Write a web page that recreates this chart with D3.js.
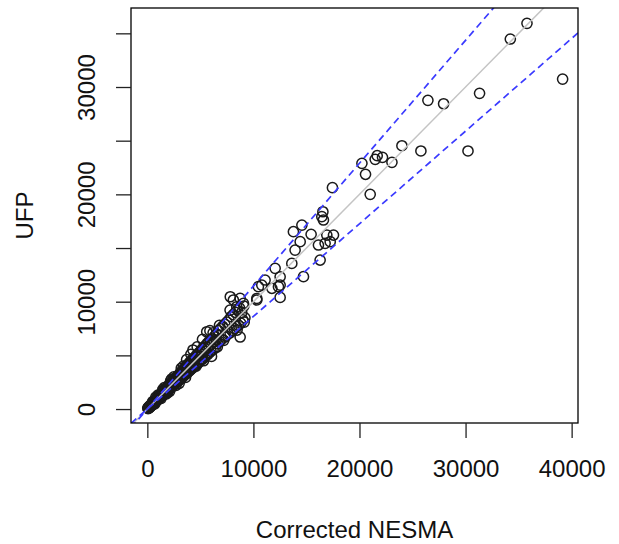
<!DOCTYPE html>
<html>
<head>
<meta charset="utf-8">
<script src="https://cdn.jsdelivr.net/npm/d3@7"></script>
<style>
  body { margin: 0; background: #fff; }
  svg { display: block; font-family: "Liberation Sans", Arial, sans-serif; }
</style>
</head>
<body>
<svg width="619" height="544"></svg>
<script>
// Corrected NESMA count (x) vs UFP (y), one pair per project
const projects = [
  // 0 - 1000
  [40,90],[70,40],[100,150],[130,80],[160,200],[190,140],[210,260],[240,190],[270,320],[300,240],
  [320,360],[350,300],[380,430],[410,340],[430,470],[460,390],[490,540],[520,450],[540,600],[570,500],
  [600,660],[630,550],[650,700],[680,600],[710,790],[740,650],[760,820],[790,700],[820,900],[850,760],
  [870,930],[900,800],[930,1020],[960,850],[980,1070],[150,160],[300,310],[600,590],[900,910],
  [500,700],[800,1100],[700,480],
  // 1000 - 2000
  [1010,900],[1040,1150],[1070,950],[1100,1200],[1120,1010],[1150,1260],[1180,1050],[1210,1330],
  [1240,1110],[1260,1380],[1290,1150],[1320,1450],[1350,1200],[1380,1510],[1410,1260],[1440,1580],
  [1470,1310],[1500,1650],[1530,1370],[1560,1700],[1590,1420],[1620,1760],[1650,1480],[1680,1830],
  [1710,1530],[1740,1900],[1770,1590],[1800,1960],[1830,1640],[1860,2020],[1890,1700],[1920,2080],
  [1950,1760],[1980,2150],[1200,1210],[1400,1390],[1600,1620],[1800,1790],
  [1000,1300],[1300,1000],[1600,2000],[1900,1500],[1450,1800],[1750,1400],
  // 2000 - 3000
  [2010,1820],[2050,2250],[2090,1880],[2130,2330],[2170,1950],[2210,2400],[2250,2020],[2300,2500],
  [2340,2100],[2380,2580],[2420,2180],[2460,2680],[2500,2250],[2550,2760],[2600,2330],[2650,2880],
  [2700,2430],[2750,2960],[2800,2520],[2850,3080],[2900,2600],[2950,3150],[2000,2010],[2200,2210],
  [2400,2380],[2600,2620],[2800,2790],
  [2100,1650],[2300,2800],[2500,3000],[2700,2200],[3000,2400],[2200,2650],
  // 3000 - 4500
  [3000,2700],[3050,3300],[3100,2780],[3150,3420],[3200,2900],[3250,3500],[3300,2950],[3350,3650],
  [3400,3080],[3450,3700],[3500,3150],[3550,3850],[3600,3250],[3650,3950],[3700,3300],[3750,4080],
  [3800,3420],[3850,4150],[3900,3500],[3950,4300],[4000,3600],[4050,4400],[4100,3700],[4150,4500],
  [4200,3780],[4250,4600],[4300,3850],[4350,4700],[4400,3950],[4450,4800],[3000,3010],[3300,3290],
  [3600,3620],[3900,3880],[4200,4210],[4500,4480],[3200,3800],[3700,4600],[4100,5100],[4600,4000],
  [3400,4000],[3600,2950],
  // 4500 - 6500
  [4500,4050],[4580,4950],[4650,4150],[4720,5100],[4800,4300],[4880,5250],[4950,4450],[5020,5400],
  [5100,4600],[5180,5600],[5250,4700],[5330,5750],[5400,4850],[5480,5900],[5550,5000],[5630,6100],
  [5700,5100],[5780,6250],[5850,5250],[5930,6400],[6000,5400],[6100,6550],[6200,5550],[6300,6750],
  [6400,5700],[4800,4790],[5100,5120],[5400,5380],[5700,5720],[6000,6010],[6300,6290],[4700,5800],
  [5600,7200],[5900,7300],[6200,7100],[4300,5500],[5200,6500],[6050,4900],[5300,4500],[6600,5800],
  // 6500 - 10500
  [6500,7000],[6600,6100],[6700,7300],[6800,6300],[6900,7500],[7000,6500],[7100,7700],[7200,6400],
  [7300,7900],[7400,6800],[7500,8100],[7600,7000],[7700,8300],[7800,7100],[7900,8600],[8000,7300],
  [8100,8800],[8200,7500],[8300,9000],[8400,7700],[8500,9200],[8600,7800],[8700,9400],[8800,8000],
  [8900,9000],[9000,8300],[9100,9600],[9200,8500],[6800,7800],[7300,6700],[8460,7360],[9130,8100],
  [8750,6710],[7330,6890],[6480,6430],[7820,10460],[8110,10160],[8430,9530],[7800,9220],[8750,10310],
  [9060,9850],[10320,10160],
  // 10000 - 13000
  [10320,10300],[10470,11400],[10790,11550],[11100,12020],[11740,11250],[12050,13110],[12360,11400],
  [12520,12320],[12520,11550],[12520,10400],
  // 13000 - 18000
  [13620,13570],[13930,14810],[13770,16520],[14410,15590],[14570,17140],[14720,12330],[15440,16280],
  [16130,15280],[16290,13880],[16550,18380],[16450,17920],[16600,17610],[16920,16210],[17550,16210],
  [16760,15440],[17240,15590],[17450,20620],
  // 20000 +
  [20230,22890],[20570,21870],[21010,20000],[21480,23260],[21670,23600],[22170,23450],[23060,22980],
  [24000,24530],[25790,24040],[26450,28760],[27930,28440],[30230,24040],[31320,29410],[34220,34470],
  [35790,35930],[39150,30740]
];

// reference lines through the origin: y = slope * x
const fitSlope = 1.0;
const bandSlopes = [1.145, 0.863];

const xTicks = [0, 10000, 20000, 30000, 40000];
const yTicks = [0, 5000, 10000, 15000, 20000, 25000, 30000, 35000];
const yLabels = [0, 10000, 20000, 30000];

const svg = d3.select("svg");
const plot = {left: 131, right: 578, top: 8, bottom: 423};

const x = d3.scaleLinear().domain([-1540, 40600]).range([plot.left, plot.right]);
const y = d3.scaleLinear().domain([-1300, 37360]).range([plot.bottom, plot.top]);

svg.append("defs").append("clipPath").attr("id", "plotArea")
   .append("rect")
   .attr("x", plot.left).attr("y", plot.top)
   .attr("width", plot.right - plot.left).attr("height", plot.bottom - plot.top);

// points
svg.append("g")
   .selectAll("circle")
   .data(projects)
   .join("circle")
   .attr("cx", d => x(d[0]))
   .attr("cy", d => y(d[1]))
   .attr("r", 5.1)
   .attr("fill", "none")
   .attr("stroke", "#1a1a1a")
   .attr("stroke-width", 1.5);

const lines = svg.append("g").attr("clip-path", "url(#plotArea)");
const xs = x.domain();

// fitted line
lines.append("line")
     .attr("x1", x(xs[0])).attr("y1", y(fitSlope * xs[0]))
     .attr("x2", x(xs[1])).attr("y2", y(fitSlope * xs[1]))
     .attr("stroke", "#c4c4c4")
     .attr("stroke-width", 1.5);

// tolerance band
lines.selectAll(".band")
     .data(bandSlopes)
     .join("line")
     .attr("class", "band")
     .attr("x1", x(xs[0])).attr("y1", s => y(s * xs[0]))
     .attr("x2", x(xs[1])).attr("y2", s => y(s * xs[1]))
     .attr("stroke", "#3a3aff")
     .attr("stroke-width", 1.7)
     .attr("stroke-dasharray", "7,4.5");

// box
svg.append("rect")
   .attr("x", plot.left).attr("y", plot.top)
   .attr("width", plot.right - plot.left).attr("height", plot.bottom - plot.top)
   .attr("fill", "none")
   .attr("stroke", "#000")
   .attr("stroke-width", 1.3);

// x axis
const gx = svg.append("g")
   .attr("transform", `translate(0,${plot.bottom})`)
   .call(d3.axisBottom(x).tickValues(xTicks).tickSize(15).tickPadding(22)
           .tickFormat(d3.format("d")));
gx.select(".domain").remove();
gx.selectAll(".tick line").attr("stroke", "#222").attr("stroke-width", 1.3);
gx.selectAll(".tick text").attr("font-size", 24).attr("fill", "#111")
  .attr("font-family", "Liberation Sans, Arial, sans-serif");

// y axis
const gy = svg.append("g")
   .attr("transform", `translate(${plot.left},0)`)
   .call(d3.axisLeft(y).tickValues(yTicks).tickSize(15)
           .tickFormat(d => yLabels.includes(d) ? d3.format("d")(d) : ""));
gy.select(".domain").remove();
gy.selectAll(".tick line").attr("stroke", "#222").attr("stroke-width", 1.3);
gy.selectAll(".tick text")
  .attr("x", null).attr("dy", null)
  .attr("transform", "translate(-36,0) rotate(-90)")
  .attr("text-anchor", "middle")
  .attr("font-size", 24).attr("fill", "#111")
  .attr("font-family", "Liberation Sans, Arial, sans-serif");

// titles
svg.append("text")
   .attr("x", (plot.left + plot.right) / 2).attr("y", 538)
   .attr("text-anchor", "middle")
   .attr("font-size", 24)
   .attr("fill", "#111")
   .text("Corrected NESMA");

svg.append("text")
   .attr("transform", `translate(33,${(plot.top + plot.bottom) / 2}) rotate(-90)`)
   .attr("text-anchor", "middle")
   .attr("font-size", 24)
   .attr("fill", "#111")
   .text("UFP");
</script>
</body>
</html>
